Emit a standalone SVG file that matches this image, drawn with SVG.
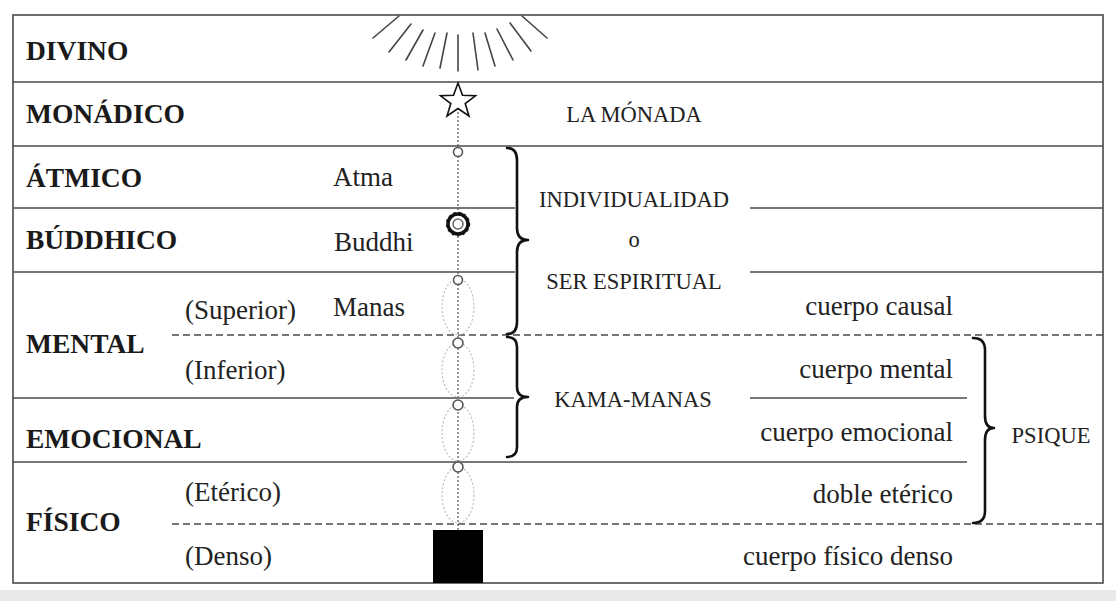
<svg xmlns="http://www.w3.org/2000/svg" width="1116" height="601" viewBox="0 0 1116 601">
<style>
.grid{stroke:#4a4a4a;stroke-width:1.6;fill:none}
.dash{stroke:#4a4a4a;stroke-width:1.4;stroke-dasharray:7 4;fill:none}
.lbl{font-weight:bold;font-size:27.5px;fill:#1a1a1a}
.txt{font-size:27px;fill:#222}
.cap{font-size:22.5px;fill:#222}
.ray{stroke:#444;stroke-width:1.6;stroke-linecap:round}
.brace{stroke:#111;stroke-width:2.6;fill:none;stroke-linecap:round;stroke-linejoin:round}
.sc{fill:#fff;stroke:#555;stroke-width:1.6}
.ell{fill:none;stroke:#b8b8b8;stroke-width:1.1;stroke-dasharray:2 2}
</style>
<rect x="0" y="0" width="1116" height="601" fill="#fff"/>
<rect x="0" y="590" width="1116" height="11" fill="#e9e9e9"/>
<g id="grid">
<rect class="grid" x="13" y="15" width="1090" height="568"/>
<line class="grid" x1="13" y1="82" x2="1103" y2="82"/>
<line class="grid" x1="13" y1="146" x2="1103" y2="146"/>
<line class="grid" x1="13" y1="208" x2="515" y2="208"/>
<line class="grid" x1="750" y1="208" x2="1103" y2="208"/>
<line class="grid" x1="13" y1="272" x2="515" y2="272"/>
<line class="grid" x1="750" y1="272" x2="1103" y2="272"/>
<line class="dash" x1="172" y1="335" x2="1103" y2="335"/>
<line class="grid" x1="13" y1="398" x2="514" y2="398"/>
<line class="grid" x1="750" y1="398" x2="967" y2="398"/>
<line class="grid" x1="13" y1="462" x2="967" y2="462"/>
<line class="dash" x1="172" y1="524" x2="1103" y2="524"/>
</g>
<g id="rays">
<line class="ray" x1="373" y1="38" x2="399" y2="16"/>
<line class="ray" x1="389" y1="52" x2="411" y2="24"/>
<line class="ray" x1="406" y1="60" x2="423" y2="30"/>
<line class="ray" x1="423" y1="66" x2="435" y2="33"/>
<line class="ray" x1="440" y1="68" x2="447" y2="33"/>
<line class="ray" x1="458" y1="71" x2="458" y2="35"/>
<line class="ray" x1="478" y1="70" x2="473" y2="33"/>
<line class="ray" x1="495" y1="66" x2="485" y2="33"/>
<line class="ray" x1="513" y1="60" x2="497" y2="29"/>
<line class="ray" x1="531" y1="51" x2="510" y2="23"/>
<line class="ray" x1="547" y1="38" x2="522" y2="16"/>
</g>
<g id="connectors">
<line x1="458" y1="112" x2="458" y2="530" stroke="#555" stroke-width="1.2" stroke-dasharray="2 2"/>
</g>
<g id="ellipses">
<ellipse class="ell" cx="458" cy="307" rx="16" ry="28"/>
<ellipse class="ell" cx="458" cy="370" rx="16" ry="27"/>
<ellipse class="ell" cx="458" cy="433" rx="16" ry="28"/>
<ellipse class="ell" cx="458" cy="495" rx="16" ry="28"/>
</g>
<g id="star">
<polygon points="458,83 462.5,95.3 475.5,95.8 465.2,103.6 469,116 458,108.5 447,116 450.8,103.6 440.5,95.8 453.5,95.3" fill="#fff" stroke="#111" stroke-width="1.6" stroke-linejoin="miter"/>
</g>
<g id="atma-point"><circle class="sc" cx="458" cy="152" r="4.5"/></g>
<g id="buddhi-point">
<circle cx="458" cy="224" r="10" fill="#fff" stroke="#111" stroke-width="3.4"/>
<circle cx="458" cy="224" r="11.6" fill="none" stroke="#111" stroke-width="1.2" stroke-dasharray="2.5 3"/>
<circle cx="458" cy="224" r="5" fill="#fff" stroke="#666" stroke-width="1.5"/>
</g>
<g id="manas-point"><circle class="sc" cx="458" cy="280" r="4.5"/></g>
<g id="inferior-point"><circle class="sc" cx="458" cy="343" r="5"/></g>
<g id="emocional-point"><circle class="sc" cx="458" cy="405" r="5"/></g>
<g id="eterico-point"><circle class="sc" cx="458" cy="467" r="5"/></g>
<g id="denso-body"><rect x="433" y="530" width="50" height="53" fill="#000"/></g>
<g id="braces">
<path class="brace" d="M507 148 Q517 148 517 160 L517 228 Q517 240 528 240 Q517 240 517 252 L517 322 Q517 334 507 334"/>
<path class="brace" d="M507 337 Q517 337 517 347 L517 387 Q517 397 528 397 Q517 397 517 407 L517 447 Q517 457 507 457"/>
<path class="brace" d="M973 338 Q985 338 985 350 L985 416 Q985 428 994 428 Q985 428 985 440 L985 511 Q985 523 973 523"/>
</g>
<g font-family="Liberation Serif, DejaVu Serif, serif">
<g id="planos">
<text class="lbl" x="26" y="60">DIVINO</text>
<text class="lbl" x="26" y="123">MONÁDICO</text>
<text class="lbl" x="26" y="187">ÁTMICO</text>
<text class="lbl" x="26" y="249">BÚDDHICO</text>
<text class="lbl" x="26" y="353">MENTAL</text>
<text class="lbl" x="26" y="448">EMOCIONAL</text>
<text class="lbl" x="26" y="531">FÍSICO</text>
</g>
<g id="subplanos">
<text class="txt" x="185" y="319">(Superior)</text>
<text class="txt" x="185" y="379">(Inferior)</text>
<text class="txt" x="185" y="501">(Etérico)</text>
<text class="txt" x="185" y="565">(Denso)</text>
</g>
<g id="principios">
<text class="txt" x="333" y="186">Atma</text>
<text class="txt" x="334" y="251">Buddhi</text>
<text class="txt" x="333" y="316">Manas</text>
</g>
<g id="grupos">
<text class="cap" x="634" y="122" text-anchor="middle">LA MÓNADA</text>
<text class="cap" x="634" y="207" text-anchor="middle">INDIVIDUALIDAD</text>
<text class="cap" x="634" y="247" text-anchor="middle">o</text>
<text class="cap" x="634" y="289" text-anchor="middle">SER ESPIRITUAL</text>
<text class="cap" x="633" y="407" text-anchor="middle">KAMA-MANAS</text>
<text class="cap" x="1051" y="443" text-anchor="middle">PSIQUE</text>
</g>
<g id="cuerpos">
<text class="txt" x="953" y="315" text-anchor="end">cuerpo causal</text>
<text class="txt" x="953" y="378" text-anchor="end">cuerpo mental</text>
<text class="txt" x="953" y="441" text-anchor="end">cuerpo emocional</text>
<text class="txt" x="953" y="503" text-anchor="end">doble etérico</text>
<text class="txt" x="953" y="565" text-anchor="end">cuerpo físico denso</text>
</g>
</g>
</svg>
